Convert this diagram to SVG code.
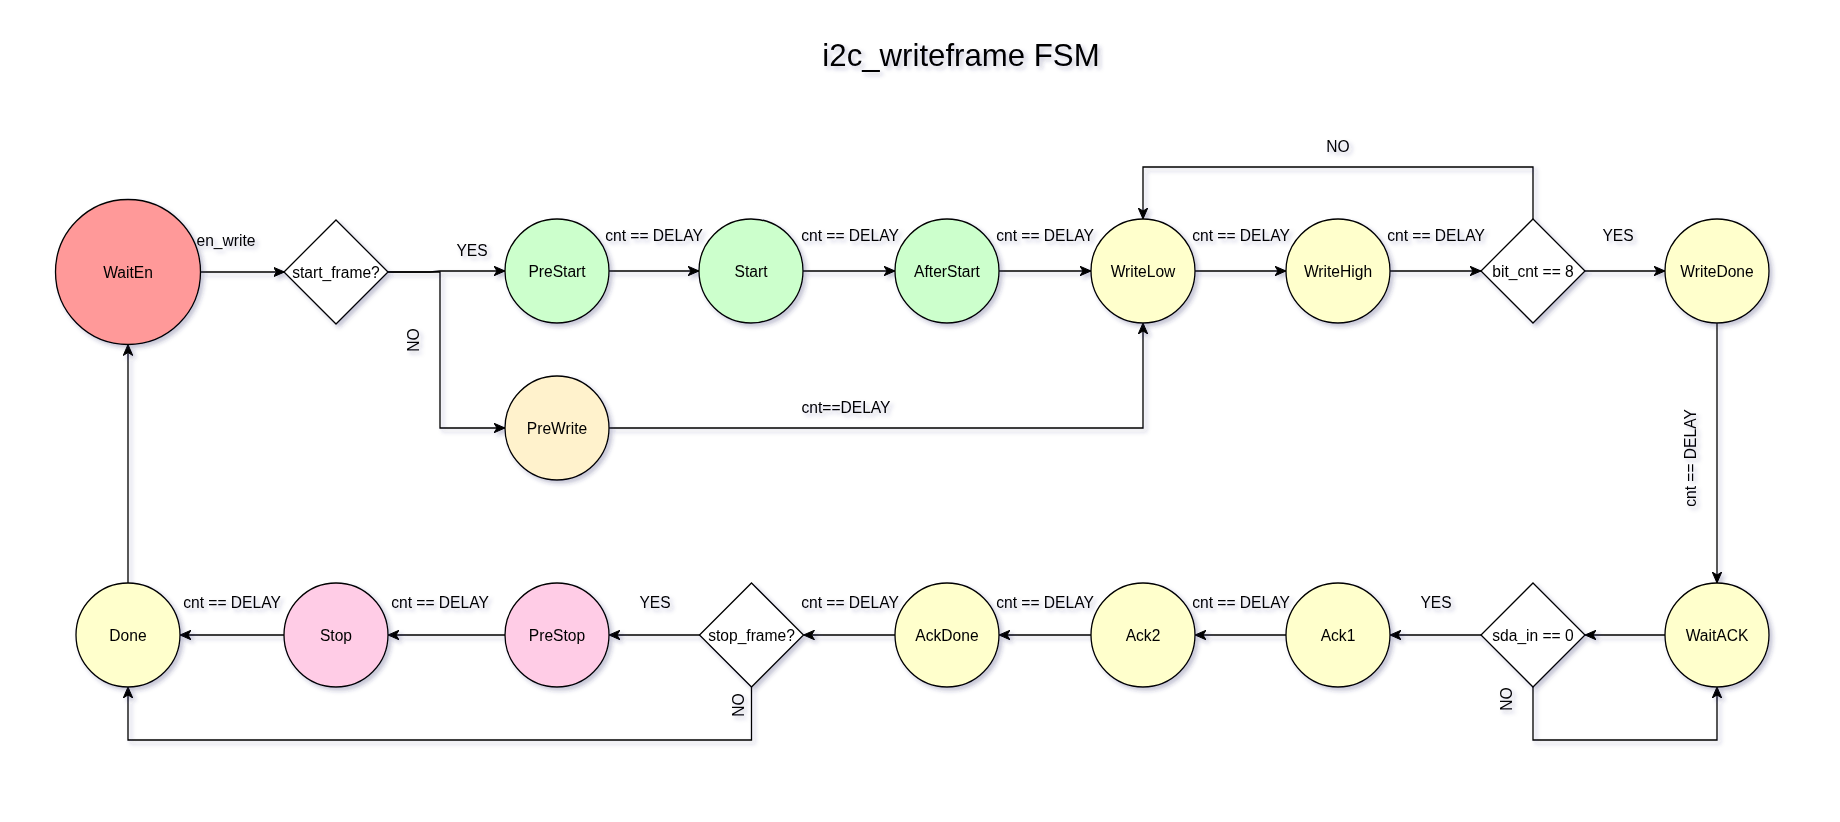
<svg xmlns="http://www.w3.org/2000/svg" width="1840" height="822" viewBox="0 0 1840 822">
<style>
text{font-family:"Liberation Sans",Arial,Helvetica,sans-serif;fill:#000}
.t{font-size:31.2px;text-anchor:middle}
.n{font-size:15.6px;text-anchor:middle;dominant-baseline:central}
.l{font-size:15.6px;text-anchor:middle;dominant-baseline:central}
.s{stroke:#000;stroke-width:1.3}
.red{fill:#FF9999}.grn{fill:#CCFFCC}.yel{fill:#FFFFCC}.org{fill:#FFF2CC}.pnk{fill:#FFCCE6}.wht{fill:#FFFFFF}
.e{fill:none;stroke:#000;stroke-width:1.3;marker-end:url(#arr)}
.e0{fill:none;stroke:#000;stroke-width:1.3}
</style>
<defs>
<filter id="sh" x="-20%" y="-20%" width="140%" height="140%">
<feDropShadow dx="3" dy="3" stdDeviation="2" flood-color="#2c2c6a" flood-opacity="0.28"/>
</filter>
<marker id="arr" markerUnits="userSpaceOnUse" markerWidth="12" markerHeight="10" refX="11" refY="4.75" orient="auto">
<path d="M0,0 L11,4.75 L0,9.5 L3,4.75 Z" fill="#000" stroke="#000" stroke-width="1"/>
</marker>
</defs>
<rect width="1840" height="822" fill="#FFFFFF"/>
<text class="t" x="961" y="66" filter="url(#sh)">i2c_writeframe FSM</text>

<g id="connectors" filter="url(#sh)">
<path class="e" d="M200.5,272 H284.5"/>
<path class="e" d="M388,272 H430 L440,271 H505"/>
<path class="e" d="M388,272 H440 V428 H505"/>
<path class="e" d="M609,271 H699"/>
<path class="e" d="M803,271 H895"/>
<path class="e" d="M999,271 H1091"/>
<path class="e" d="M1195,271 H1286"/>
<path class="e" d="M1390,271 H1481"/>
<path class="e" d="M1585,271 H1665"/>
<path class="e" d="M1533,220 V167 H1143 V219"/>
<path class="e" d="M609,428 H1143 V323"/>
<path class="e" d="M1717,323 V583"/>
<path class="e" d="M1665,635 H1585"/>
<path class="e" d="M1481,635 H1390"/>
<path class="e" d="M1533,687 V740 H1717 V687"/>
<path class="e" d="M1286,635 H1195"/>
<path class="e" d="M1091,635 H999"/>
<path class="e" d="M895,635 H803.5"/>
<path class="e" d="M700,635 H609"/>
<path class="e" d="M751.5,687 V740 H128 V687"/>
<path class="e" d="M505,635 H388"/>
<path class="e" d="M284.5,635 H180"/>
<path class="e" d="M128,583 V344.5"/>
<text class="l" x="226" y="240">en_write</text>
<text class="l" x="472" y="250">YES</text>
<text class="l" transform="translate(413,340) rotate(-90)">NO</text>
<text class="l" x="654" y="235">cnt == DELAY</text>
<text class="l" x="850" y="235">cnt == DELAY</text>
<text class="l" x="1045" y="235">cnt == DELAY</text>
<text class="l" x="1241" y="235">cnt == DELAY</text>
<text class="l" x="1436" y="235">cnt == DELAY</text>
<text class="l" x="1618" y="235">YES</text>
<text class="l" x="1338" y="146">NO</text>
<text class="l" x="846" y="407">cnt==DELAY</text>
<text class="l" transform="translate(1690,458) rotate(-90)">cnt == DELAY</text>
<text class="l" x="1436" y="602">YES</text>
<text class="l" transform="translate(1506,699) rotate(-90)">NO</text>
<text class="l" x="1241" y="602">cnt == DELAY</text>
<text class="l" x="1045" y="602">cnt == DELAY</text>
<text class="l" x="850" y="602">cnt == DELAY</text>
<text class="l" x="655" y="602">YES</text>
<text class="l" transform="translate(738,705) rotate(-90)">NO</text>
<text class="l" x="440" y="602">cnt == DELAY</text>
<text class="l" x="232" y="602">cnt == DELAY</text>
</g>

<g id="WaitEn" filter="url(#sh)"><circle class="s red" cx="128" cy="272" r="72.5"/><text class="n" x="128" y="272">WaitEn</text></g>
<g id="start_frame" filter="url(#sh)"><path class="s wht" d="M336,220 L388,272 L336,324 L284,272 Z"/><text class="n" x="336" y="272">start_frame?</text></g>
<g id="PreStart" filter="url(#sh)"><circle class="s grn" cx="557" cy="271" r="52"/><text class="n" x="557" y="271">PreStart</text></g>
<g id="Start" filter="url(#sh)"><circle class="s grn" cx="751" cy="271" r="52"/><text class="n" x="751" y="271">Start</text></g>
<g id="AfterStart" filter="url(#sh)"><circle class="s grn" cx="947" cy="271" r="52"/><text class="n" x="947" y="271">AfterStart</text></g>
<g id="WriteLow" filter="url(#sh)"><circle class="s yel" cx="1143" cy="271" r="52"/><text class="n" x="1143" y="271">WriteLow</text></g>
<g id="WriteHigh" filter="url(#sh)"><circle class="s yel" cx="1338" cy="271" r="52"/><text class="n" x="1338" y="271">WriteHigh</text></g>
<g id="bit_cnt" filter="url(#sh)"><path class="s wht" d="M1533,219 L1585,271 L1533,323 L1481,271 Z"/><text class="n" x="1533" y="271">bit_cnt == 8</text></g>
<g id="WriteDone" filter="url(#sh)"><circle class="s yel" cx="1717" cy="271" r="52"/><text class="n" x="1717" y="271">WriteDone</text></g>
<g id="PreWrite" filter="url(#sh)"><circle class="s org" cx="557" cy="428" r="52"/><text class="n" x="557" y="428">PreWrite</text></g>

<g id="Done" filter="url(#sh)"><circle class="s yel" cx="128" cy="635" r="52"/><text class="n" x="128" y="635">Done</text></g>
<g id="Stop" filter="url(#sh)"><circle class="s pnk" cx="336" cy="635" r="52"/><text class="n" x="336" y="635">Stop</text></g>
<g id="PreStop" filter="url(#sh)"><circle class="s pnk" cx="557" cy="635" r="52"/><text class="n" x="557" y="635">PreStop</text></g>
<g id="stop_frame" filter="url(#sh)"><path class="s wht" d="M751.5,583 L803.5,635 L751.5,687 L699.5,635 Z"/><text class="n" x="751.5" y="635">stop_frame?</text></g>
<g id="AckDone" filter="url(#sh)"><circle class="s yel" cx="947" cy="635" r="52"/><text class="n" x="947" y="635">AckDone</text></g>
<g id="Ack2" filter="url(#sh)"><circle class="s yel" cx="1143" cy="635" r="52"/><text class="n" x="1143" y="635">Ack2</text></g>
<g id="Ack1" filter="url(#sh)"><circle class="s yel" cx="1338" cy="635" r="52"/><text class="n" x="1338" y="635">Ack1</text></g>
<g id="sda_in" filter="url(#sh)"><path class="s wht" d="M1533,583 L1585,635 L1533,687 L1481,635 Z"/><text class="n" x="1533" y="635">sda_in == 0</text></g>
<g id="WaitACK" filter="url(#sh)"><circle class="s yel" cx="1717" cy="635" r="52"/><text class="n" x="1717" y="635">WaitACK</text></g>
</svg>
